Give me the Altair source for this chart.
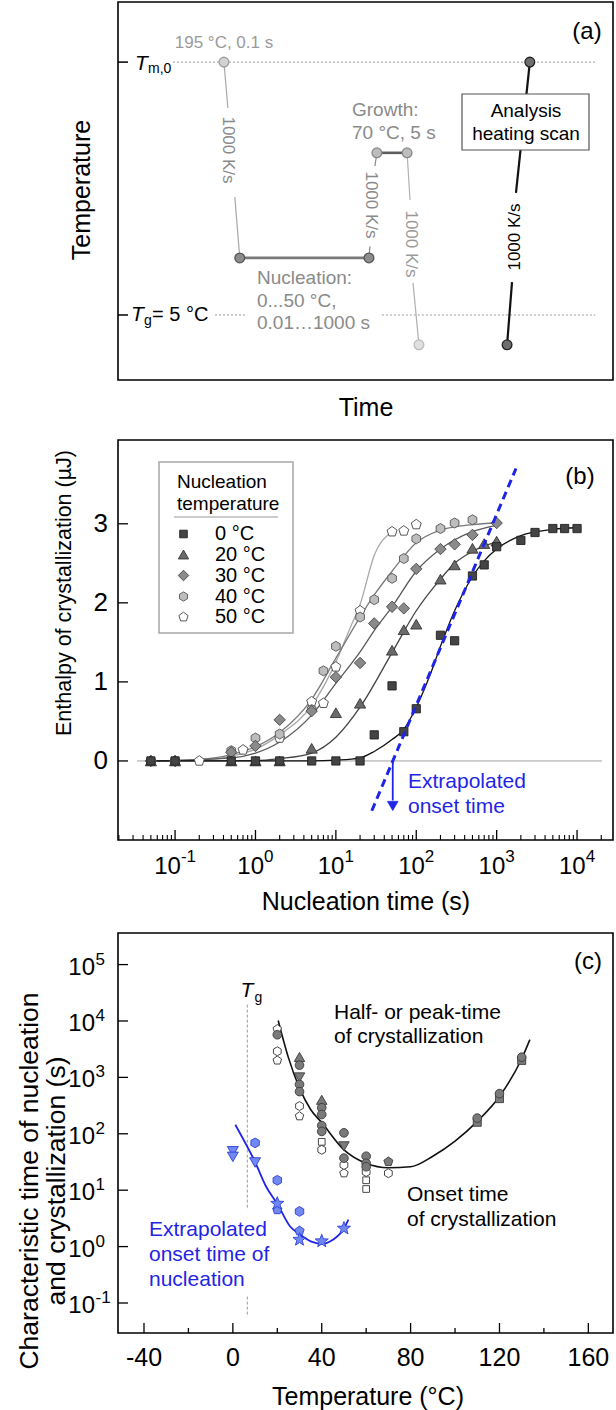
import math
import altair as alt
import pandas as pd

FONT = "Liberation Sans"
BLUE = "#1f25e6"
BLUE_FILL = "#7088f0"
BLUE_EDGE = "#2f3fd8"

# ---------------- page layout (pixels of the 616 x 1410 page) ----------------
LEFT, RIGHT = 118, 613
A_TOP, A_BOT = 2, 380
B_TOP, B_BOT = 440, 840
C_TOP, C_BOT = 933, 1333

# ---------------- panel (a): schematic temperature programme ----------------
# schematic units: time 0..100 across the frame, temperature level 0..100 up the frame
A_MELT, A_GROWTH, A_NUCL, A_TG, A_END = 84.1, 60.1, 32.3, 17.2, 9.3
A_REF_MELT_T = [11.1, 96.4]
A_REF_TG_LEFT_T = [19.6, 25.9]
A_REF_TG_RIGHT_T = [53.3, 96.4]
A_COOL_T = [[21.4, 22.2], [23.6, 24.6]]
A_COOL_L = [[84.1, 72.0], [48.4, 32.3]]
A_NUCL_T = [24.6, 50.7]
A_HEAT_T = [[50.7, 50.9], [51.9, 52.3]]
A_HEAT_L = [[32.3, 35.4], [56.6, 60.1]]
A_GROW_T = [52.3, 58.4]
A_QUENCH_T = [[58.4, 59.0], [59.6, 60.8]]
A_QUENCH_L = [[60.1, 47.6], [25.7, 9.3]]
A_SCAN_T = [[78.6, 79.6], [80.4, 83.2]]
A_SCAN_L = [[9.3, 25.9], [49.5, 84.1]]
A_NODE_T = [21.4, 24.6, 50.7, 52.3, 58.4, 60.8, 78.6, 83.2]
A_NODE_L = [84.1, 32.3, 32.3, 60.1, 60.1, 9.3, 9.3, 84.1]
A_NODE_FILL = ["#d2d2d2", "#8c8c8c", "#8c8c8c", "#bdbdbd", "#bdbdbd", "#e0e0e0", "#6e6e6e", "#6e6e6e"]
A_NODE_EDGE = ["#a0a0a0", "#555555", "#555555", "#888888", "#888888", "#bbbbbb", "#222222", "#222222"]

# ---------------- panel (b): enthalpy of crystallization vs nucleation time ----------------
B_T0_TIME = [0.05, 0.1, 0.5, 1, 2, 5, 10, 20, 30, 50, 70, 100, 200, 300, 500, 700, 1000,
             2000, 3000, 5000, 7000, 10000]
B_T0_DH = [0, 0, 0, 0, 0, 0, 0, 0, 0.33, 0.95, 0.37, 0.66, 1.59, 1.52, 2.34, 2.48, 2.71,
           2.79, 2.89, 2.94, 2.94, 2.94]
B_T20_TIME = [0.05, 0.1, 0.5, 1, 2, 5, 10, 20, 50, 70, 100, 200, 300, 500, 700, 1000]
B_T20_DH = [0, 0, 0, 0, 0, 0.16, 0.61, 0.73, 1.40, 1.66, 1.73, 2.30, 2.48, 2.69, 2.75, 2.78]
B_T30_TIME = [0.05, 0.1, 0.5, 1, 2, 5, 10, 20, 30, 50, 70, 100, 200, 300, 500, 1000]
B_T30_DH = [0, 0, 0.11, 0.19, 0.52, 0.63, 1.06, 1.24, 1.74, 1.95, 1.93, 2.43, 2.68, 2.74, 2.86, 3.01]
B_T40_TIME = [0.05, 0.1, 0.5, 1, 2, 5, 7, 10, 20, 30, 50, 70, 100, 200, 300, 500]
B_T40_DH = [0, 0, 0.13, 0.29, 0.34, 0.65, 1.14, 1.45, 1.82, 2.04, 2.31, 2.56, 2.81, 2.94, 3.01, 3.05]
B_T50_TIME = [0.2, 0.7, 2, 5, 7, 10, 20, 50, 70, 100]
B_T50_DH = [0, 0.14, 0.29, 0.75, 0.73, 1.19, 1.90, 2.90, 2.91, 2.99]

# fitted curves, read as knots along each line
B_FIT0_TIME = [0.05, 5, 10, 20, 30, 50, 70, 100, 150, 200, 300, 500, 700, 1000, 2000, 5000, 10000]
B_FIT0_DH = [0, 0, 0.01, 0.04, 0.12, 0.27, 0.40, 0.68, 1.10, 1.45, 1.90, 2.33, 2.53, 2.68, 2.85, 2.93, 2.95]
B_FIT20_TIME = [0.05, 1, 2, 5, 10, 20, 50, 100, 200, 300, 500, 1000]
B_FIT20_DH = [0, 0.005, 0.03, 0.10, 0.30, 0.68, 1.37, 1.90, 2.30, 2.50, 2.65, 2.77]
B_FIT30_TIME = [0.05, 0.5, 1, 2, 5, 10, 20, 30, 50, 100, 200, 500, 1000]
B_FIT30_DH = [0, 0.04, 0.10, 0.24, 0.58, 0.98, 1.38, 1.65, 1.95, 2.40, 2.68, 2.90, 2.98]
B_FIT40_TIME = [0.05, 0.2, 0.5, 1, 2, 5, 10, 20, 30, 50, 100, 200, 500, 1000]
B_FIT40_DH = [0, 0.02, 0.08, 0.18, 0.36, 0.78, 1.30, 1.82, 2.10, 2.40, 2.76, 2.92, 2.99, 3.01]
B_FIT50_TIME = [0.2, 0.5, 1, 2, 5, 10, 15, 20, 30, 50]
B_FIT50_DH = [0, 0.06, 0.15, 0.33, 0.70, 1.25, 1.68, 1.98, 2.60, 2.90]

# extrapolated onset line and arrow
B_ONSET_LINE_TIME = [28, 1740]
B_ONSET_LINE_DH = [-0.63, 3.70]
B_ONSET_TIME = 51
B_ARROW_DH = [0, -0.50]
B_ARROW_HEAD_DH = -0.57
B_BASELINE_DH = 0

B_LEGEND = ["0 °C", "20 °C", "30 °C", "40 °C", "50 °C"]

# ---------------- panel (c): characteristic times vs temperature ----------------
C_DARK_CIRCLE_T = [20, 30, 30, 30, 40, 40, 40, 40, 50, 50, 60, 60, 60, 110, 120, 130]
C_DARK_CIRCLE_S = [5700, 1650, 750, 560, 290, 220, 140, 110, 104, 37, 40, 30, 26, 190, 515, 2280]
C_DARK_TRIUP_T = [30, 40]
C_DARK_TRIUP_S = [2300, 400]
C_DARK_TRIDN_T = [30, 50]
C_DARK_TRIDN_S = [1000, 60]
C_DARK_PENT_T = [70]
C_DARK_PENT_S = [32]
C_DARK_SQUARE_T = [110, 120, 130]
C_DARK_SQUARE_S = [160, 420, 2000]
C_OPEN_PENT_T = [20, 20, 30, 50]
C_OPEN_PENT_S = [7200, 2000, 205, 20]
C_OPEN_HEX_T = [20, 30, 40, 50, 60, 70]
C_OPEN_HEX_S = [2900, 310, 52, 28, 21, 20]
C_OPEN_SQUARE_T = [40, 60, 60]
C_OPEN_SQUARE_S = [72, 15, 10.5]

C_BLUE_TRIDN_T = [0, 0, 10]
C_BLUE_TRIDN_S = [49, 39, 31]
C_BLUE_HEX_T = [10, 20, 30]
C_BLUE_HEX_S = [69, 15, 4.2]
C_BLUE_PENT_T = [20, 30]
C_BLUE_PENT_S = [4.5, 1.9]
C_BLUE_STAR_T = [20, 30, 40, 50]
C_BLUE_STAR_S = [5.8, 1.33, 1.25, 2.1]

C_FIT_T = [20.4, 25, 30, 35, 40, 50, 60, 70, 80, 90, 100, 110, 120, 130, 133.7]
C_FIT_S = [10200, 2240, 645, 270, 158, 52, 30, 25, 26, 40, 74, 166, 457, 2140, 4680]
C_BLUE_FIT_T = [1.1, 10, 15, 20, 25.7, 30, 36, 40, 45, 50, 52]
C_BLUE_FIT_S = [145, 31.6, 11.5, 5.75, 2.3, 1.66, 1.2, 1.12, 1.32, 2.09, 3.0]
C_TG = 6.5

# ---------------- axes ----------------
B_YTICKS = [0, 1, 2, 3]
B_XTICKS = [0.1, 1, 10, 100, 1000, 10000]
B_XEXP = ["-1", "0", "1", "2", "3", "4"]
C_XTICKS = [-40, 0, 40, 80, 120, 160]
C_XMINOR = [-20, 20, 60, 100, 140]
C_YTICKS = [0.1, 1, 10, 100, 1000, 10000, 100000]
C_YEXP = ["-1", "0", "1", "2", "3", "4", "5"]

# ---------------- scales with pixel ranges ----------------
def sa_x():
    return alt.Scale(domain=[0, 100], range=[LEFT, RIGHT], nice=False, zero=False)


def sa_y():
    return alt.Scale(domain=[0, 100], range=[A_BOT, A_TOP], nice=False, zero=False)


def sb_x():
    return alt.Scale(type="log", domain=[0.0195, 28000], range=[LEFT, RIGHT], nice=False)


def sb_y():
    return alt.Scale(domain=[-1.0, 4.06], range=[B_BOT, B_TOP], nice=False, zero=False)


def sc_x():
    return alt.Scale(domain=[-51.7, 171.1], range=[LEFT, RIGHT], nice=False, zero=False)


def sc_y():
    return alt.Scale(type="log", domain=[0.02938, 363000], range=[C_BOT, C_TOP], nice=False)


def qx(field, scale):
    return alt.X(f"{field}:Q", scale=scale, axis=None)


def qy(field, scale):
    return alt.Y(f"{field}:Q", scale=scale, axis=None)


def qx2(field):
    return alt.X2(f"{field}:Q")


def qy2(field):
    return alt.Y2(f"{field}:Q")


ONE = pd.DataFrame({"k": [0]})
layers = []


def line(xs, ys, xs_scale, ys_scale, color, width, dash=None, interp="linear"):
    df = pd.DataFrame({"x": xs, "y": ys})
    kw = dict(color=color, strokeWidth=width, interpolate=interp, clip=False)
    if dash:
        kw["strokeDash"] = dash
    return alt.Chart(df).mark_line(**kw).encode(x=qx("x", xs_scale), y=qy("y", ys_scale))


def points(xs, ys, xs_scale, ys_scale, shape, size, fill, stroke, sw=0.9):
    df = pd.DataFrame({"x": xs, "y": ys})
    return alt.Chart(df).mark_point(shape=shape, size=size, filled=True, fill=fill, stroke=stroke,
                                    strokeWidth=sw, opacity=1).encode(
        x=qx("x", xs_scale), y=qy("y", ys_scale))


def label(text, x, y, size, color="#000000", align="center", baseline="middle", angle=0,
          style="normal"):
    return alt.Chart(ONE).mark_text(text=text, font=FONT, fontSize=size, color=color, align=align,
                                    baseline=baseline, angle=angle, fontStyle=style).encode(
        x=alt.value(x), y=alt.value(y))


# marker paths
HEX = "M0,-1L0.866,-0.5L0.866,0.5L0,1L-0.866,0.5L-0.866,-0.5Z"
PENT = "M0,-1L0.951,-0.309L0.588,0.809L-0.588,0.809L-0.951,-0.309Z"
_star = []
for i in range(10):
    ang = math.radians(-90 + 36 * i)
    r = 1.0 if i % 2 == 0 else 0.42
    _star.append(f"{r * math.cos(ang):.3f},{r * math.sin(ang):.3f}")
STAR = "M" + "L".join(_star) + "Z"

# ======================= panel (a) =======================
layers.append(line(A_REF_MELT_T, [A_MELT, A_MELT], sa_x(), sa_y(), "#9a9a9a", 1, [2, 2]))
layers.append(line(A_REF_TG_LEFT_T, [A_TG, A_TG], sa_x(), sa_y(), "#9a9a9a", 1, [2, 2]))
layers.append(line(A_REF_TG_RIGHT_T, [A_TG, A_TG], sa_x(), sa_y(), "#9a9a9a", 1, [2, 2]))
for xs, ys in zip(A_COOL_T, A_COOL_L):
    layers.append(line(xs, ys, sa_x(), sa_y(), "#a8a8a8", 1.2))
layers.append(line(A_NUCL_T, [A_NUCL, A_NUCL], sa_x(), sa_y(), "#7a7a7a", 2.6))
for xs, ys in zip(A_HEAT_T, A_HEAT_L):
    layers.append(line(xs, ys, sa_x(), sa_y(), "#8a8a8a", 1.2))
layers.append(line(A_GROW_T, [A_GROWTH, A_GROWTH], sa_x(), sa_y(), "#5c5c5c", 2.6))
for xs, ys in zip(A_QUENCH_T, A_QUENCH_L):
    layers.append(line(xs, ys, sa_x(), sa_y(), "#b0b0b0", 1.2))
for xs, ys in zip(A_SCAN_T, A_SCAN_L):
    layers.append(line(xs, ys, sa_x(), sa_y(), "#111111", 2.2))
# box around the analysis scan label
layers.append(alt.Chart(ONE).mark_rect(fill="white", stroke="#555555", strokeWidth=1.2).encode(
    x=alt.value(462), x2=alt.value(589), y=alt.value(94), y2=alt.value(150)))
for t, lv, f, e in zip(A_NODE_T, A_NODE_L, A_NODE_FILL, A_NODE_EDGE):
    layers.append(points([t], [lv], sa_x(), sa_y(), "circle", 95, f, e, 1.3))

GRAY_TXT = "#8a8a8a"
layers += [
    label("195 °C, 0.1 s", 224, 43, 17, "#9a9a9a"),
    label("1000 K/s", 228, 150, 17, GRAY_TXT, angle=90),
    label("1000 K/s", 371, 205, 17, GRAY_TXT, angle=90),
    label("1000 K/s", 411, 244, 17, "#9a9a9a", angle=90),
    label("1000 K/s", 515, 237, 17, "#000000", angle=270),
    label("Growth:", 352, 110, 19, GRAY_TXT, align="left"),
    label("70 °C, 5 s", 352, 133, 19, GRAY_TXT, align="left"),
    label("Nucleation:", 257, 278, 19, GRAY_TXT, align="left"),
    label("0...50 °C,", 257, 301, 19, GRAY_TXT, align="left"),
    label("0.01…1000 s", 257, 323, 19, GRAY_TXT, align="left"),
    label("Analysis", 526, 111, 19),
    label("heating scan", 526, 134, 19),
    label("(a)", 587, 32, 24),
    label("T", 135, 64, 21, style="italic", align="left"),
    label("m,0", 148, 69, 14, align="left"),
    label("T", 131, 315, 21, style="italic", align="left"),
    label("g", 144, 321, 14, align="left"),
    label("= 5 °C", 152, 315, 20, align="left"),
    label("Temperature", 82, 190, 25, angle=270),
    label("Time", 366, 408, 25),
]
# level ticks on the temperature axis
layers.append(alt.Chart(pd.DataFrame({"y": [A_MELT, A_TG]})).mark_rule(color="black", strokeWidth=1.5).encode(
    y=qy("y", sa_y()), x=alt.value(LEFT), x2=alt.value(LEFT + 10)))

# ======================= panel (b) =======================
layers.append(alt.Chart(pd.DataFrame({"y": [B_BASELINE_DH]})).mark_rule(color="#a0a0a0", strokeWidth=1).encode(
    y=qy("y", sb_y()), x=alt.value(137), x2=alt.value(602)))

B_SERIES = [
    (B_T50_TIME, B_T50_DH, B_FIT50_TIME, B_FIT50_DH, PENT, 110, "#ffffff", "#444444", "#a8a8a8"),
    (B_T40_TIME, B_T40_DH, B_FIT40_TIME, B_FIT40_DH, HEX, 100, "#bdbdbd", "#555555", "#7a7a7a"),
    (B_T30_TIME, B_T30_DH, B_FIT30_TIME, B_FIT30_DH, "diamond", 130, "#8a8a8a", "#444444", "#5a5a5a"),
    (B_T20_TIME, B_T20_DH, B_FIT20_TIME, B_FIT20_DH, "triangle-up", 125, "#6a6a6a", "#333333", "#444444"),
    (B_T0_TIME, B_T0_DH, B_FIT0_TIME, B_FIT0_DH, "square", 68, "#444444", "#222222", "#111111"),
]
for tx, dh, ftx, fdh, shp, size, fill, edge, lc in B_SERIES:
    layers.append(line(ftx, fdh, sb_x(), sb_y(), lc, 1.3, interp="monotone"))
for tx, dh, ftx, fdh, shp, size, fill, edge, lc in B_SERIES:
    layers.append(points(tx, dh, sb_x(), sb_y(), shp, size, fill, edge))

layers.append(line(B_ONSET_LINE_TIME, B_ONSET_LINE_DH, sb_x(), sb_y(), BLUE, 3, [8, 5]))
layers.append(alt.Chart(pd.DataFrame({"x": [B_ONSET_TIME], "y": [B_ARROW_DH[0]], "y2": [B_ARROW_DH[1]]}))
              .mark_rule(color=BLUE, strokeWidth=1.8).encode(x=qx("x", sb_x()), y=qy("y", sb_y()), y2=qy2("y2")))
layers.append(points([B_ONSET_TIME], [B_ARROW_HEAD_DH], sb_x(), sb_y(), "triangle-down", 120, BLUE, BLUE, 0.5))
layers += [
    label("Extrapolated", 408, 782, 21, BLUE, align="left"),
    label("onset time", 408, 807, 21, BLUE, align="left"),
    label("(b)", 580, 477, 24),
]

# legend
layers.append(alt.Chart(ONE).mark_rect(fill="white", stroke="#a8a8a8", strokeWidth=1.5).encode(
    x=alt.value(159), x2=alt.value(293), y=alt.value(462), y2=alt.value(633)))
layers += [
    label("Nucleation", 177, 482, 19, align="left"),
    label("temperature", 177, 504, 19, align="left"),
]
layers.append(alt.Chart(ONE).mark_rule(color="#999999", strokeWidth=1).encode(
    x=alt.value(174), x2=alt.value(278), y=alt.value(517)))
LEG_ROWS = [534, 554.5, 575.5, 596.5, 617]
for row_y, lab, (tx, dh, ftx, fdh, shp, size, fill, edge, lc) in zip(LEG_ROWS, B_LEGEND, B_SERIES[::-1]):
    layers.append(alt.Chart(ONE).mark_point(shape=shp, size=size * 0.85, filled=True, fill=fill, stroke=edge,
                                            strokeWidth=0.9, opacity=1).encode(x=alt.value(183.5), y=alt.value(row_y)))
    layers.append(label(lab, 215, row_y, 20, align="left"))

# axes of (b)
layers.append(alt.Chart(pd.DataFrame({"v": B_YTICKS})).mark_rule(color="black", strokeWidth=1.3).encode(
    y=qy("v", sb_y()), x=alt.value(LEFT), x2=alt.value(LEFT + 10)))
layers.append(alt.Chart(pd.DataFrame({"v": B_YTICKS, "t": [str(v) for v in B_YTICKS]})).mark_text(
    font=FONT, fontSize=26, align="right", baseline="middle").encode(
    y=qy("v", sb_y()), x=alt.value(108), text="t:N"))
b_minor = []
for d in range(-2, 5):
    for k in range(2, 10):
        v = k * 10.0 ** d
        if 0.0195 <= v <= 28000:
            b_minor.append(v)
layers.append(alt.Chart(pd.DataFrame({"v": B_XTICKS})).mark_rule(color="black", strokeWidth=1.3).encode(
    x=qx("v", sb_x()), y=alt.value(B_BOT), y2=alt.value(B_BOT - 10)))
layers.append(alt.Chart(pd.DataFrame({"v": b_minor})).mark_rule(color="black", strokeWidth=1.1).encode(
    x=qx("v", sb_x()), y=alt.value(B_BOT), y2=alt.value(B_BOT - 5)))
bx = pd.DataFrame({"v": B_XTICKS, "e": B_XEXP, "b": ["10"] * len(B_XTICKS)})
for neg, off in ((True, 5.8), (False, 8.6)):
    sub = bx[bx["e"].str.startswith("-") == neg]
    layers.append(alt.Chart(sub).mark_text(font=FONT, fontSize=24, align="right", baseline="middle", dx=off).encode(
        x=qx("v", sb_x()), y=alt.value(867), text="b:N"))
    layers.append(alt.Chart(sub).mark_text(font=FONT, fontSize=17, align="left", baseline="middle", dx=off).encode(
        x=qx("v", sb_x()), y=alt.value(857), text="e:N"))
layers += [
    label("Nucleation time (s)", 366, 902, 25),
    label("Enthalpy of crystallization (µJ)", 65, 593, 21.5, angle=270),
]

# ======================= panel (c) =======================
layers.append(alt.Chart(pd.DataFrame({"x": [C_TG, C_TG], "y": [19500, 0.13], "y2": [4.5, 0.057]}))
              .mark_rule(color="#999999", strokeWidth=1, strokeDash=[3, 2]).encode(
    x=qx("x", sc_x()), y=qy("y", sc_y()), y2=qy2("y2")))
layers += [
    label("T", 240.5, 991, 21, style="italic", align="left"),
    label("g", 254.5, 998, 14, align="left"),
]
layers.append(line(C_FIT_T, C_FIT_S, sc_x(), sc_y(), "#111111", 1.6, interp="monotone"))
layers.append(line(C_BLUE_FIT_T, C_BLUE_FIT_S, sc_x(), sc_y(), BLUE, 1.8, interp="monotone"))

C_GROUPS = [
    (C_OPEN_PENT_T, C_OPEN_PENT_S, PENT, 80, "#ffffff", "#333333"),
    (C_OPEN_HEX_T, C_OPEN_HEX_S, HEX, 80, "#ffffff", "#333333"),
    (C_OPEN_SQUARE_T, C_OPEN_SQUARE_S, "square", 45, "#ffffff", "#333333"),
    (C_DARK_SQUARE_T, C_DARK_SQUARE_S, "square", 64, "#7a7a7a", "#3a3a3a"),
    (C_DARK_TRIUP_T, C_DARK_TRIUP_S, "triangle-up", 110, "#7a7a7a", "#3a3a3a"),
    (C_DARK_TRIDN_T, C_DARK_TRIDN_S, "triangle-down", 110, "#7a7a7a", "#3a3a3a"),
    (C_DARK_PENT_T, C_DARK_PENT_S, PENT, 90, "#7a7a7a", "#3a3a3a"),
    (C_DARK_CIRCLE_T, C_DARK_CIRCLE_S, "circle", 75, "#7a7a7a", "#3a3a3a"),
    (C_BLUE_TRIDN_T, C_BLUE_TRIDN_S, "triangle-down", 120, BLUE_FILL, BLUE_EDGE),
    (C_BLUE_HEX_T, C_BLUE_HEX_S, HEX, 95, BLUE_FILL, BLUE_EDGE),
    (C_BLUE_PENT_T, C_BLUE_PENT_S, PENT, 95, BLUE_FILL, BLUE_EDGE),
    (C_BLUE_STAR_T, C_BLUE_STAR_S, STAR, 190, BLUE_FILL, BLUE_EDGE),
]
for xs, ys, shp, size, fill, edge in C_GROUPS:
    layers.append(points(xs, ys, sc_x(), sc_y(), shp, size, fill, edge))

layers += [
    label("Half- or peak-time", 334, 1013, 21, align="left"),
    label("of crystallization", 334, 1037, 21, align="left"),
    label("Onset time", 407, 1195, 21, align="left"),
    label("of crystallization", 407, 1220, 21, align="left"),
    label("Extrapolated", 149, 1230, 21, BLUE, align="left"),
    label("onset time of", 149, 1255, 21, BLUE, align="left"),
    label("nucleation", 149, 1280, 21, BLUE, align="left"),
    label("(c)", 588, 962, 24),
]

# axes of (c)
layers.append(alt.Chart(pd.DataFrame({"v": C_YTICKS})).mark_rule(color="black", strokeWidth=1.3).encode(
    y=qy("v", sc_y()), x=alt.value(LEFT), x2=alt.value(LEFT + 10)))
cy = pd.DataFrame({"v": C_YTICKS, "e": C_YEXP, "b": ["10"] * len(C_YTICKS)})
layers.append(alt.Chart(cy).mark_text(font=FONT, fontSize=24, align="right", baseline="middle", dy=3).encode(
    y=qy("v", sc_y()), x=alt.value(95), text="b:N"))
layers.append(alt.Chart(cy).mark_text(font=FONT, fontSize=17, align="left", baseline="middle", dy=-5).encode(
    y=qy("v", sc_y()), x=alt.value(95.5), text="e:N"))
layers.append(alt.Chart(pd.DataFrame({"v": C_XTICKS})).mark_rule(color="black", strokeWidth=1.3).encode(
    x=qx("v", sc_x()), y=alt.value(C_BOT), y2=alt.value(C_BOT - 10)))
layers.append(alt.Chart(pd.DataFrame({"v": C_XMINOR})).mark_rule(color="black", strokeWidth=1.3).encode(
    x=qx("v", sc_x()), y=alt.value(C_BOT), y2=alt.value(C_BOT - 5)))
layers.append(alt.Chart(pd.DataFrame({"v": C_XTICKS, "t": [str(v) for v in C_XTICKS]})).mark_text(
    font=FONT, fontSize=25, align="center", baseline="middle").encode(
    x=qx("v", sc_x()), y=alt.value(1358), text="t:N"))
layers += [
    label("Temperature (°C)", 368, 1397, 25),
    label("Characteristic time of nucleation", 30, 1181, 26.5, angle=270),
    label("and crystallization (s)", 57, 1181, 26.5, angle=270),
]

# frames of the three panels
for top, bot in ((A_TOP, A_BOT), (B_TOP, B_BOT), (C_TOP, C_BOT)):
    layers.append(alt.Chart(ONE).mark_rect(fillOpacity=0, stroke="black", strokeWidth=1.6).encode(
        x=alt.value(LEFT), x2=alt.value(RIGHT), y=alt.value(top), y2=alt.value(bot)))

chart = alt.layer(*layers).resolve_scale(x="independent", y="independent").properties(
    width=616, height=1410, padding=0, autosize=alt.AutoSizeParams(type="none"),
    background="white",
).configure_view(stroke=None)

chart.save("out.html", embed_options={"renderer": "svg", "actions": False})
